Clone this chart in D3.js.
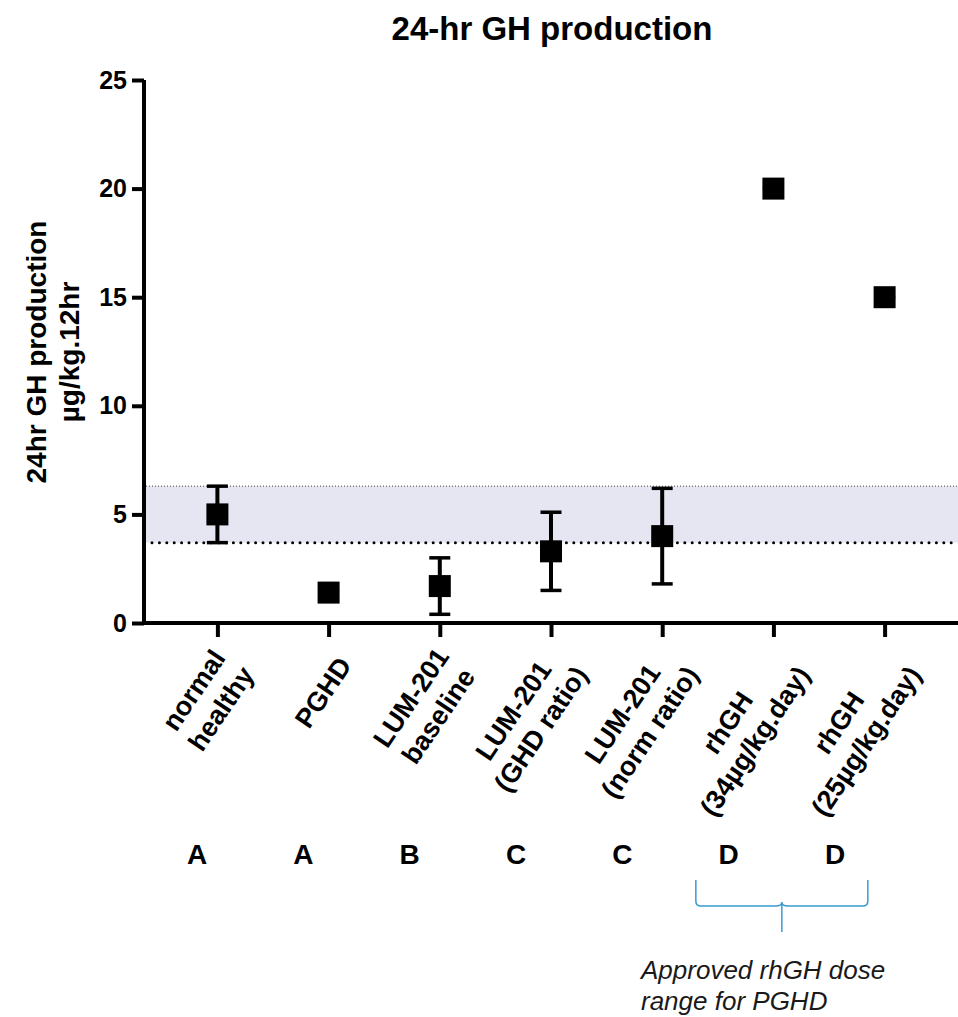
<!DOCTYPE html>
<html>
<head>
<meta charset="utf-8">
<script src="https://cdn.jsdelivr.net/npm/d3@7"></script>
<style>
  body { margin: 0; background: #fff; }
  svg { font-family: Arial, "Liberation Sans", sans-serif; }
</style>
</head>
<body>
<div id="canvas"></div>
<script>
// group names (one label line per entry) and the values
const categories = ["normal healthy", "PGHD", "LUM-201 baseline", "LUM-201 GHD", "LUM-201 norm", "rhGH 34", "rhGH 25"];
const categoryLines = [
    ["normal", "healthy"],
    ["PGHD"],
    ["LUM-201", "baseline"],
    ["LUM-201", "(GHD ratio)"],
    ["LUM-201", "(norm ratio)"],
    ["rhGH", "(34µg/kg.day)"],
    ["rhGH", "(25µg/kg.day)"]
];
const means = [5.0, 1.4, 1.7, 3.3, 4.0, 20, 15];
const lows  = [3.7, 1.3, 0.4, 1.5, 1.8, 20, 15];
const highs = [6.3, 1.5, 3.0, 5.1, 6.2, 20, 15];
const groupLetters = ["A", "A", "B", "C", "C", "D", "D"];
const normalRange = [3.7, 6.3];
const yTicks = [0, 5, 10, 15, 20, 25];

// set the dimensions and margins of the graph
const margin = {top: 80, right: 0, bottom: 394, left: 144},
    width = 958 - margin.left - margin.right,
    height = 1017 - margin.top - margin.bottom;

const root = d3.select("#canvas")
    .append("svg")
    .attr("width", 958)
    .attr("height", 1017);

const svg = root.append("g")
    .attr("transform", "translate(" + margin.left + "," + margin.top + ")");

const x = d3.scalePoint()
    .domain(categories)
    .range([0, width])
    .padding(0.66);

const y = d3.scaleLinear()
    .domain([0, 25])
    .range([height, 0]);

// title
root.append("text")
    .attr("x", 552)
    .attr("y", 40)
    .attr("text-anchor", "middle")
    .style("font-size", "33px")
    .style("font-weight", "bold")
    .text("24-hr GH production");

// normal range band
svg.append("rect")
    .attr("x", 0)
    .attr("y", y(normalRange[1]))
    .attr("width", width)
    .attr("height", y(normalRange[0]) - y(normalRange[1]))
    .style("fill", "#e6e6f2");

svg.append("line")
    .attr("x1", 2).attr("x2", width)
    .attr("y1", y(normalRange[1])).attr("y2", y(normalRange[1]))
    .style("stroke", "#444")
    .style("stroke-width", 1)
    .style("stroke-dasharray", "1,2");

svg.append("line")
    .attr("x1", 8).attr("x2", width)
    .attr("y1", y(normalRange[0])).attr("y2", y(normalRange[0]))
    .style("stroke", "#000")
    .style("stroke-width", 3)
    .style("stroke-linecap", "round")
    .style("stroke-dasharray", "0,7.4");

// axes
const yAxis = svg.append("g")
    .call(d3.axisLeft(y).tickValues(yTicks).tickSize(12).tickSizeOuter(0).tickPadding(5));

const xAxis = svg.append("g")
    .attr("transform", "translate(0," + height + ")")
    .call(d3.axisBottom(x).tickSize(14).tickSizeOuter(0).tickFormat(""));

[yAxis, xAxis].forEach(function(a) {
    a.select(".domain").style("stroke", "#000").style("stroke-width", 4);
    a.selectAll(".tick line").style("stroke", "#000").style("stroke-width", 4);
});
yAxis.selectAll(".tick text")
    .style("font-size", "25px")
    .style("font-weight", "bold")
    .style("fill", "#000");
xAxis.select(".domain").attr("d", "M-2,0H" + width);
yAxis.select(".domain").attr("d", "M0,0V" + (height + 2));

// y axis title
const yTitle = root.append("g")
    .attr("transform", "translate(0,352) rotate(-90)");
["24hr GH production", "µg/kg.12hr"].forEach(function(t, i) {
    yTitle.append("text")
        .attr("x", 0)
        .attr("y", 46 + i * 33)
        .attr("text-anchor", "middle")
        .style("font-size", "28px")
        .style("font-weight", "bold")
        .text(t);
});

// rotated category labels, lines centred, block hung from its right middle
const labelSize = 27, lineH = 33, cap = 0.716 * labelSize;
categories.forEach(function(c, i) {
    const lines = categoryLines[i];
    const g = svg.append("g")
        .attr("transform", "translate(" + (x(c) + 16) + "," + (height + 37) + ") rotate(-56)");
    const texts = lines.map(function(t, j) {
        return g.append("text")
            .attr("y", -(lines.length - 1) * lineH / 2 + cap / 2 + j * lineH)
            .attr("text-anchor", "middle")
            .style("font-size", labelSize + "px")
            .style("font-weight", "bold")
            .text(t);
    });
    const maxW = d3.max(texts, t => t.node().getComputedTextLength());
    texts.forEach(t => t.attr("x", -maxW / 2));
});

// error bars
const bars = svg.selectAll(".err")
    .data(categories)
    .enter()
    .append("g")
    .attr("class", "err");

bars.append("line")
    .attr("x1", d => x(d)).attr("x2", d => x(d))
    .attr("y1", (d, i) => y(highs[i])).attr("y2", (d, i) => y(lows[i]))
    .style("stroke", "#000")
    .style("stroke-width", 4);

[highs, lows].forEach(function(arr) {
    bars.append("line")
        .attr("x1", d => x(d) - 10.5).attr("x2", d => x(d) + 10.5)
        .attr("y1", (d, i) => y(arr[i])).attr("y2", (d, i) => y(arr[i]))
        .style("stroke", "#000")
        .style("stroke-width", 3.5);
});

// square markers
svg.selectAll(".pt")
    .data(categories)
    .enter()
    .append("rect")
    .attr("class", "pt")
    .attr("x", d => x(d) - 11)
    .attr("y", (d, i) => y(means[i]) - 11)
    .attr("width", 22)
    .attr("height", 22)
    .style("fill", "#000");

// group letters under the labels
const letterX = d3.scaleLinear()
    .domain([0, groupLetters.length - 1])
    .range([197, 835]);

root.selectAll(".letter")
    .data(groupLetters)
    .enter()
    .append("text")
    .attr("class", "letter")
    .attr("x", (d, i) => letterX(i))
    .attr("y", 864)
    .attr("text-anchor", "middle")
    .style("font-size", "28px")
    .style("font-weight", "bold")
    .text(d => d);

// brace over the two rhGH groups
const braceMid = (letterX(5) + letterX(6)) / 2,
    braceLeft = braceMid - 86, braceRight = braceMid + 86,
    braceTop = 880, braceBar = 906, braceTip = 932;
const p = d3.path();
p.moveTo(braceLeft, braceTop);
p.lineTo(braceLeft, braceBar - 5);
p.quadraticCurveTo(braceLeft, braceBar, braceLeft + 5, braceBar);
p.lineTo(braceMid - 6, braceBar);
p.quadraticCurveTo(braceMid, braceBar, braceMid, braceBar - 4);
p.moveTo(braceMid, braceTip);
p.lineTo(braceMid, braceBar - 4);
p.quadraticCurveTo(braceMid, braceBar, braceMid + 6, braceBar);
p.lineTo(braceRight - 5, braceBar);
p.quadraticCurveTo(braceRight, braceBar, braceRight, braceBar - 5);
p.lineTo(braceRight, braceTop);
root.append("path")
    .attr("d", p.toString())
    .style("fill", "none")
    .style("stroke", "#3d9bd0")
    .style("stroke-width", 1.5);

["Approved rhGH dose", "range for PGHD"].forEach(function(t, i) {
    root.append("text")
        .attr("x", 641)
        .attr("y", 979 + i * 31)
        .style("font-size", "26px")
        .style("font-style", "italic")
        .style("fill", "#1a1a1a")
        .text(t);
});
</script>
</body>
</html>
